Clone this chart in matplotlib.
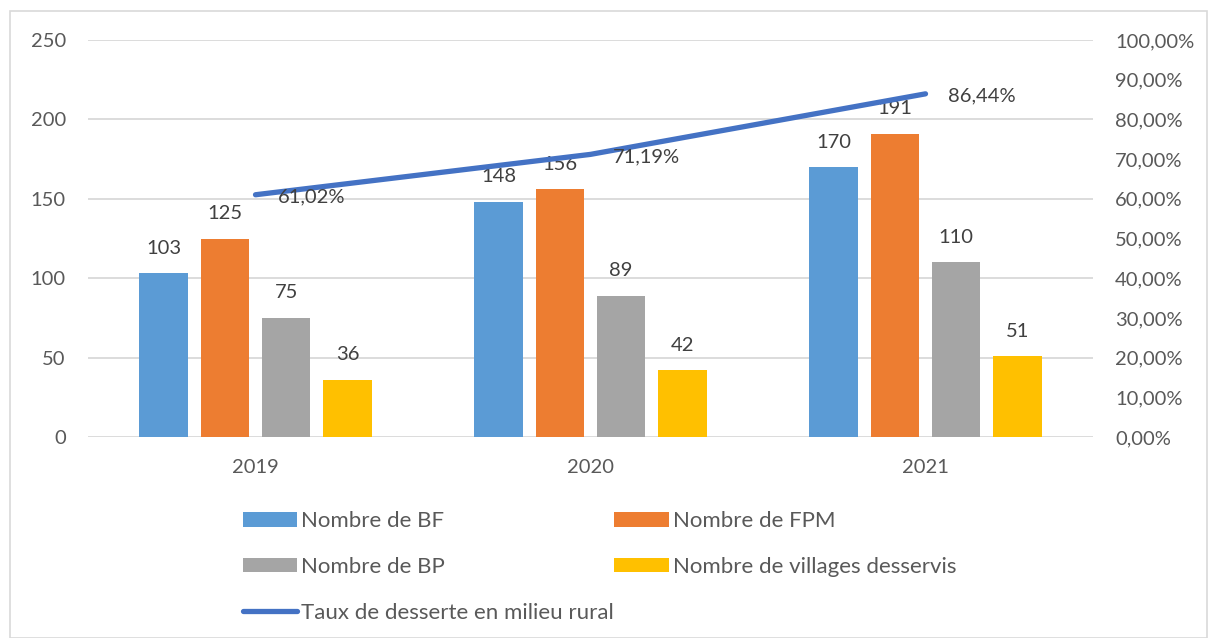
import matplotlib
matplotlib.use("Agg")
import matplotlib.pyplot as plt
import numpy as np
from matplotlib.patches import Rectangle
from matplotlib.ticker import FuncFormatter

plt.rcParams["font.family"] = ["Lato", "DejaVu Sans"]

# ── data ────────────────────────────────────────────────────────────────────
years = ["2019", "2020", "2021"]
nb_bf = [103, 148, 170]
nb_fpm = [125, 156, 191]
nb_bp = [75, 89, 110]
nb_villages = [36, 42, 51]
taux_desserte = [0.6102, 0.7119, 0.8644]

series_labels = ["Nombre de BF", "Nombre de FPM", "Nombre de BP",
                 "Nombre de villages desservis"]
line_label = "Taux de desserte en milieu rural"

# ── style ───────────────────────────────────────────────────────────────────
_COLORS = ["#5B9BD5", "#ED7D31", "#A5A5A5", "#FFC000"]
_LINE = "#4472C4"
_GRID = "#D9D9D9"
_TICK = "#595959"
_LABEL = "#404040"
_FS = 14.5
_LEG_FS = 16
_W = 0.144   # bar width (category units)
_STEP = 0.183

fig = plt.figure(figsize=(12.11, 6.38), dpi=100)
ax = fig.add_axes([88 / 1211, 1 - 437 / 638, 1005 / 1211, 397 / 638])
ax2 = ax.twinx()

x = np.arange(len(years))
handles = []
for i, (vals, col, lab) in enumerate(zip([nb_bf, nb_fpm, nb_bp, nb_villages],
                                         _COLORS, series_labels)):
    off = (i - 1.5) * _STEP
    bars = ax.bar(x + off, vals, width=_W, color=col, label=lab, zorder=2)
    handles.append(bars)
    for xi, v in zip(x + off, vals):
        ax.annotate(f"{v}", (xi, v), xytext=(0, 18), textcoords="offset points",
                    ha="center", va="center", fontsize=_FS, color=_LABEL)

ln, = ax2.plot(x, taux_desserte, color=_LINE, lw=3.8, solid_capstyle="round",
               label=line_label, zorder=3)
for xi, v in zip(x, taux_desserte):
    ax2.annotate(f"{v * 100:.2f}%".replace(".", ","), (xi, v), xytext=(16, -1.5),
                 textcoords="offset points", ha="left", va="center",
                 fontsize=_FS, color=_LABEL)

ax.set_xlim(-0.5, 2.5)
ax.set_ylim(0, 250)
ax.set_yticks(range(0, 251, 50))
ax2.set_ylim(0, 1)
ax2.set_yticks(np.arange(0, 1.01, 0.1))
ax2.yaxis.set_major_formatter(
    FuncFormatter(lambda v, _: f"{v * 100:.2f}%".replace(".", ",")))

ax.set_xticks(x)
ax.set_xticklabels(years)
ax.yaxis.grid(True, color=_GRID, lw=1.3, zorder=0)
ax.set_axisbelow(True)

for a in (ax, ax2):
    for s in a.spines.values():
        s.set_visible(False)
    a.tick_params(length=0, labelsize=_FS, labelcolor=_TICK)
ax.tick_params(axis="y", pad=16)
ax.tick_params(axis="x", pad=16)
ax2.tick_params(axis="y", pad=16)

order = [handles[0], handles[2], ln, handles[1], handles[3]]
fig.legend(order, [h.get_label() for h in order], ncol=2, frameon=False,
           loc="upper left", bbox_to_anchor=(243 / 1211, 1 - 511 / 638),
           borderaxespad=0, borderpad=0,
           fontsize=_LEG_FS, labelcolor=_TICK, handlelength=2.45, handleheight=0.65,
           handletextpad=0.18, columnspacing=0.0, labelspacing=1.16)

fig.add_artist(Rectangle((10 / 1211, 0.5 / 638), 1197 / 1211, 627 / 638,
                         transform=fig.transFigure, fill=False,
                         edgecolor=_GRID, lw=1.2))

fig.savefig("out.png", facecolor="white")
